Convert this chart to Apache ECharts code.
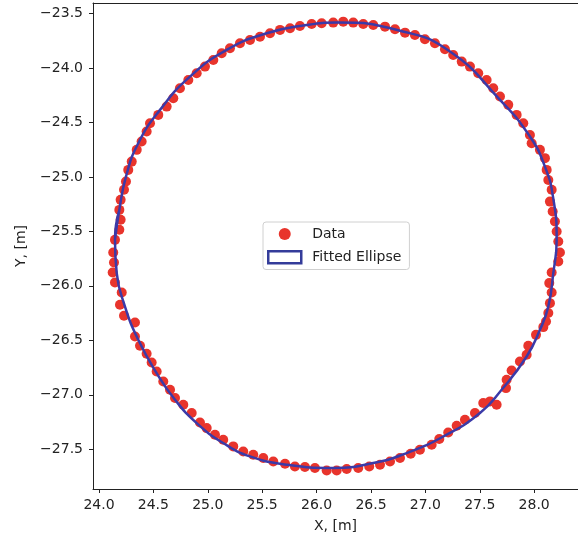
<!DOCTYPE html>
<html>
<head>
<meta charset="utf-8">
<script src="https://cdn.jsdelivr.net/npm/echarts@6/dist/echarts.min.js"></script>
<style>html,body{margin:0;padding:0;background:#fff}#c{width:578px;height:540px}</style>
</head>
<body>
<div id="c"></div>
<script>
// Measured data points (X, Y in metres)
var dataX = [24.147,24.187,24.199,24.187,24.199,24.230,24.248,24.269,24.301,24.347,24.392,24.438,24.469,24.545,24.622,24.683,24.744,24.821,24.898,24.974,25.051,25.128,25.204,25.296,25.388,25.480,25.572,25.664,25.756,25.847,25.955,26.047,26.153,
26.245,26.337,26.429,26.521,26.629,26.721,26.813,26.904,26.996,27.088,27.180,27.256,27.334,27.410,27.486,27.563,27.624,27.686,27.762,27.839,27.900,27.961,27.977,28.053,28.099,28.115,28.130,28.161,28.145,28.170,28.191,28.207,28.222,
28.237,28.222,28.161,28.139,28.161,28.145,28.130,28.109,28.084,28.017,27.946,27.931,27.869,27.793,27.747,27.741,27.655,27.594,27.532,27.456,27.364,27.288,27.210,27.128,27.058,26.950,26.865,26.767,26.675,26.583,26.484,26.383,26.277,26.185,
26.093,25.985,25.893,25.801,25.710,25.602,25.510,25.418,25.326,25.234,25.142,25.066,24.990,24.928,24.852,24.775,24.699,24.653,24.591,24.530,24.484,24.438,24.377,24.331,24.331,24.230,24.193,24.209,24.147,24.126,24.138,24.131];
var dataY = [-25.578,-25.486,-25.394,-25.303,-25.211,-25.119,-25.043,-24.936,-24.860,-24.752,-24.676,-24.584,-24.507,-24.431,-24.355,-24.278,-24.186,-24.110,-24.049,-23.988,-23.927,-23.865,-23.819,-23.773,-23.743,-23.713,-23.682,-23.651,-23.636,-23.615,-23.596,-23.590,-23.584,
-23.575,-23.584,-23.596,-23.606,-23.621,-23.645,-23.676,-23.697,-23.737,-23.773,-23.828,-23.881,-23.942,-23.988,-24.049,-24.110,-24.186,-24.263,-24.339,-24.431,-24.507,-24.615,-24.691,-24.752,-24.828,-24.936,-25.028,-25.119,-25.227,-25.318,-25.410,-25.502,-25.594,
-25.694,-25.777,-25.878,-25.975,-26.061,-26.159,-26.250,-26.328,-26.379,-26.450,-26.550,-26.633,-26.695,-26.777,-26.862,-26.939,-27.092,-27.061,-27.076,-27.168,-27.229,-27.284,-27.346,-27.406,-27.459,-27.505,-27.541,-27.581,-27.612,-27.642,-27.658,-27.672,-27.682,-27.695,
-27.695,-27.672,-27.663,-27.658,-27.633,-27.612,-27.581,-27.550,-27.520,-27.474,-27.413,-27.367,-27.306,-27.254,-27.168,-27.092,-27.030,-26.954,-26.878,-26.786,-26.704,-26.624,-26.550,-26.465,-26.337,-26.275,-26.174,-26.061,-25.970,-25.878,-25.786,-25.694];

// Fitted ellipse
var ellipseX = [24.147,24.187,24.248,24.361,24.561,24.836,25.174,25.541,25.909,26.185,26.767,27.226,27.686,27.961,28.099,28.173,28.207,28.176,28.130,28.053,27.931,27.701,27.502,27.165,26.828,26.521,26.153,25.725,25.388,25.142,24.898,24.699,24.530,24.361,24.239,24.163];
var ellipseY = [-25.578,-25.303,-24.997,-24.691,-24.385,-24.080,-23.835,-23.682,-23.606,-23.584,-23.658,-23.850,-24.294,-24.630,-24.906,-25.181,-25.578,-25.883,-26.190,-26.404,-26.649,-26.954,-27.168,-27.383,-27.535,-27.627,-27.672,-27.642,-27.566,-27.443,-27.260,-27.046,-26.801,-26.495,-26.190,-25.883];

var xTicks = [24.0,24.5,25.0,25.5,26.0,26.5,27.0,27.5,28.0];
var yTicks = [-27.5,-27.0,-26.5,-26.0,-25.5,-25.0,-24.5,-24.0,-23.5];

var pts = dataX.map(function(x,i){return [x,dataY[i]];});
var ell = ellipseX.map(function(x,i){return [x,ellipseY[i]];});
ell.push(ell[0]); ell.push(ell[1]);

function fmt(v){ return (v<0?'\u2212':'') + Math.abs(v).toFixed(1); }

var FONT = 'DejaVu Sans';
var XMIN = 23.945, XMAX = 28.403;
var chart = echarts.init(document.getElementById('c'), null, {renderer:'canvas'});
chart.setOption({
  animation:false,
  backgroundColor:'#fff',
  textStyle:{fontFamily:FONT},
  grid:{left:93, right:0, top:3, bottom:51, show:false, containLabel:false},
  xAxis:[{
    type:'value', min:XMIN, max:XMAX, position:'bottom',
    name:'X, [m]', nameLocation:'middle', nameGap:30,
    nameTextStyle:{fontFamily:FONT, fontSize:14, color:'#222'},
    axisLine:{show:true, onZero:false, lineStyle:{color:'#222', width:1}},
    axisTick:{show:true, length:4, customValues:xTicks, lineStyle:{color:'#222'}},
    axisLabel:{customValues:xTicks, formatter:fmt, fontFamily:FONT, fontSize:14, color:'#222', margin:9},
    splitLine:{show:false}
  },{
    type:'value', min:XMIN, max:XMAX, position:'top',
    axisLine:{show:true, onZero:false, lineStyle:{color:'#222', width:1}},
    axisTick:{show:false}, axisLabel:{show:false}, splitLine:{show:false}
  }],
  yAxis:{
    type:'value', min:-27.865, max:-23.404,
    name:'Y, [m]', nameLocation:'middle', nameGap:65, nameRotate:90,
    nameTextStyle:{fontFamily:FONT, fontSize:14, color:'#222'},
    axisLine:{show:true, onZero:false, lineStyle:{color:'#222', width:1}},
    axisTick:{show:true, length:4, customValues:yTicks, lineStyle:{color:'#222'}},
    axisLabel:{customValues:yTicks, formatter:fmt, fontFamily:FONT, fontSize:14, color:'#222', margin:10},
    splitLine:{show:false}
  },
  legend:{
    left:263, top:222, orient:'vertical',
    padding:[5,8,5,4], itemGap:9, itemWidth:33, itemHeight:12,
    backgroundColor:'rgba(255,255,255,0.9)', borderColor:'#d0d0d0', borderWidth:1, borderRadius:3,
    textStyle:{fontFamily:FONT, fontSize:14, color:'#222', padding:[0,0,0,6]},
    data:[
      {name:'Data', icon:'circle', itemStyle:{color:'#e8342c'}},
      {name:'Fitted Ellipse', icon:'rect', itemStyle:{color:'#ffffff', borderColor:'#343c9a', borderWidth:2.5}}
    ]
  },
  series:[
    {name:'Data', type:'scatter', data:pts, symbol:'circle', symbolSize:10,
     itemStyle:{color:'#e8342c', opacity:1}, z:2},
    {name:'Fitted Ellipse', type:'line', data:ell, smooth:0.5, showSymbol:false, symbol:'none',
     lineStyle:{color:'#3b3aa8', width:2.5}, itemStyle:{color:'#3b3aa8'}, z:3}
  ]
});
</script>
</body>
</html>
